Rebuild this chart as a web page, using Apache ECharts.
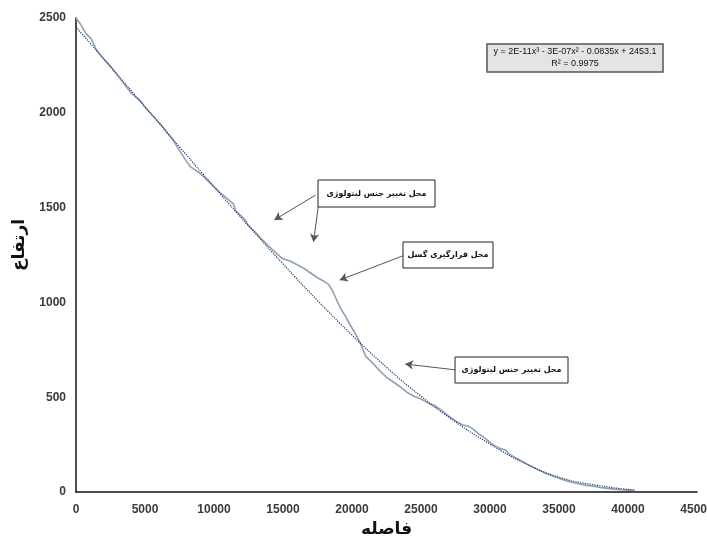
<!DOCTYPE html>
<html>
<head>
<meta charset="utf-8">
<script src="https://cdn.jsdelivr.net/npm/echarts@6/dist/echarts.min.js"></script>
<style>
  html, body { margin: 0; padding: 0; background: #ffffff; }
  #chart { width: 707px; height: 541px; }
</style>
</head>
<body>
<div id="chart"></div>
<script>
// Longitudinal profile: measured elevation along the distance axis
const distance = [
  0, 300, 700, 1100, 1500, 2000, 2500, 3000, 3500, 4000, 4300, 4700, 5000, 5500,
  6000, 6300, 6600, 7000, 7300, 7600, 8000, 8300, 8600, 9000, 9500, 10000, 10500,
  11000, 11400, 11600, 11900, 12200, 12500, 13000, 13500, 14000, 14500, 15000,
  15500, 16000, 16500, 17000, 17500, 18000, 18300, 18600, 18900, 19200, 19500,
  19800, 20200, 20500, 20800, 21000, 21500, 22000, 22500, 23000, 23500, 24000,
  24500, 25000, 25500, 26000, 26500, 27000, 27500, 28000, 28500, 28800, 29200,
  29700, 30200, 30700, 31100, 31400, 32000, 32500, 33000, 33500, 34000, 34500,
  35000, 35500, 36000, 36500, 37000, 37500, 38000, 38500, 39000, 39500, 40000, 40500
];
const elevation = [
  2500, 2470, 2420, 2390, 2330, 2285, 2245, 2200, 2150, 2105, 2085, 2060, 2030, 1990,
  1950, 1925, 1895, 1860, 1825, 1790, 1745, 1715, 1700, 1680, 1645, 1610, 1575,
  1545, 1520, 1480, 1460, 1440, 1405, 1370, 1330, 1295, 1260, 1230,
  1218, 1200, 1180, 1155, 1130, 1110, 1095, 1060, 1010, 965, 930,
  890, 840, 800, 750, 715, 680, 640, 605, 580, 555, 525,
  505, 490, 470, 455, 430, 400, 375, 355, 345, 330, 305,
  280, 250, 230, 222, 200, 175, 155, 135, 118, 100, 85,
  72, 60, 50, 42, 35, 30, 24, 19, 15, 12, 10, 8
];

// Polynomial trend line (3rd order) sampled along the profile
const trendDistance = [0, 2500, 5000, 7500, 10000, 12500, 15000, 17500, 20000, 22500, 25000, 27500, 30000, 32500, 35000, 37500, 40500];
const trendElevation = [2453, 2243, 2032, 1820, 1610, 1404, 1203, 1010, 828, 658, 505, 370, 253, 152, 78, 38, 10];

// Axis settings
const xMax = 45000, xStep = 5000;
const yMax = 2500, yStep = 500;

// Annotation texts and arrow endpoints (distance, elevation)
const noteLitho = 'محل تغییر جنس لیتولوژی';
const noteFault = 'محل قرارگیری گسل';
const equationText = 'y = 2E-11x³ - 3E-07x² - 0.0835x + 2453.1';
const r2Text = 'R² = 0.9975';
const arrows = [
  [[17360, 1566], [14370, 1435]],
  [[17650, 1556], [17210, 1319]],
  [[23850, 1250], [19110, 1118]],
  [[27640, 643], [23850, 675]]
];

const zip = (a, b) => a.map((v, i) => [v, b[i]]);

const chart = echarts.init(document.getElementById('chart'));

const boxFont = 'bold 8px "DejaVu Sans"';
function noteBox(x, y, w, h, text) {
  return {
    type: 'group',
    children: [
      { type: 'rect', shape: { x: x, y: y, width: w, height: h },
        style: { fill: '#ffffff', stroke: '#222222', lineWidth: 1 }, z: 20 },
      { type: 'text', x: x + w / 2, y: y + h / 2,
        style: { text: text, font: boxFont, fill: '#111111', align: 'center', verticalAlign: 'middle' }, z: 21 }
    ]
  };
}

const plainNumber = v => String(v);

chart.setOption({
  animation: false,
  backgroundColor: '#ffffff',
  grid: { left: 76, right: 10, top: 18, bottom: 49, containLabel: false, outerBoundsMode: 'none' },
  xAxis: {
    type: 'value', min: 0, max: xMax, interval: xStep,
    name: 'فاصله', nameLocation: 'middle', nameGap: 28,
    nameTextStyle: { fontFamily: 'DejaVu Sans', fontWeight: 'bold', fontSize: 17, color: '#111' },
    axisLine: { lineStyle: { color: '#111', width: 1.5 } },
    axisTick: { show: false },
    splitLine: { show: false },
    axisLabel: { margin: 12, formatter: plainNumber, fontFamily: 'Liberation Sans', fontWeight: 'bold', fontSize: 12, color: '#3a3a3a' }
  },
  yAxis: {
    type: 'value', min: 0, max: yMax, interval: yStep,
    name: 'ارتفاع', nameLocation: 'middle', nameGap: 38, nameRotate: 90,
    nameTextStyle: { fontFamily: 'DejaVu Sans', fontWeight: 'bold', fontSize: 17, color: '#111', padding: [0, 0, 0, 20] },
    axisLine: { show: true, lineStyle: { color: '#111', width: 1.5 } },
    axisTick: { show: false },
    splitLine: { show: false },
    axisLabel: { margin: 10, formatter: plainNumber, fontFamily: 'Liberation Sans', fontWeight: 'bold', fontSize: 12, color: '#3a3a3a' }
  },
  series: [
    {
      type: 'line', name: 'profile',
      data: zip(distance, elevation),
      showSymbol: false, smooth: false,
      lineStyle: { color: '#8da1b9', width: 1.6 },
      z: 3
    },
    {
      type: 'line', name: 'trend',
      data: zip(trendDistance, trendElevation),
      showSymbol: false, smooth: true,
      lineStyle: { color: '#25365a', width: 1.2, type: 'dotted' },
      z: 4,
      markLine: {
        silent: true,
        symbol: ['none', 'arrow'],
        symbolSize: [7, 8],
        label: { show: false },
        lineStyle: { color: '#555555', width: 1, type: 'solid' },
        data: arrows.map(a => [{ coord: a[0] }, { coord: a[1] }])
      }
    }
  ],
  graphic: [
    {
      type: 'group',
      children: [
        { type: 'rect', shape: { x: 487, y: 44, width: 176, height: 28 },
          style: { fill: '#e4e4e4', stroke: '#555555', lineWidth: 1.5 }, z: 20 },
        { type: 'text', x: 575, y: 52,
          style: { text: equationText, font: '9px "Liberation Sans"', fill: '#111', align: 'center', verticalAlign: 'middle' }, z: 21 },
        { type: 'text', x: 575, y: 64,
          style: { text: r2Text, font: '9px "Liberation Sans"', fill: '#111', align: 'center', verticalAlign: 'middle' }, z: 21 }
      ]
    },
    noteBox(318, 180, 117, 27, noteLitho),
    noteBox(403, 242, 90, 26, noteFault),
    noteBox(455, 357, 113, 26, noteLitho)
  ]
});
</script>
</body>
</html>
